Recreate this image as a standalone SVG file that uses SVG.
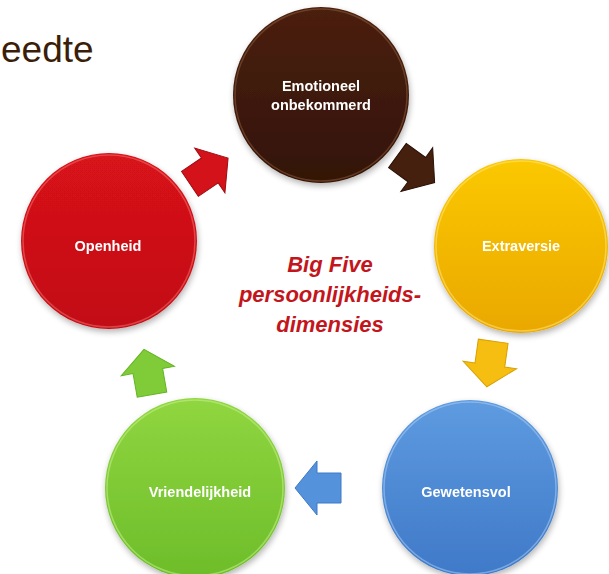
<svg xmlns="http://www.w3.org/2000/svg" width="609" height="574" viewBox="0 0 609 574">
<defs>
<style>
.lbl{font-family:"Liberation Sans",Arial,sans-serif;font-weight:bold;font-size:14.5px;fill:#fff;text-anchor:middle}
.ctr{font-family:"Liberation Sans",Arial,sans-serif;font-weight:bold;font-style:italic;font-size:22px;fill:#c3161c;text-anchor:middle}
.rim{fill:none;stroke-width:1.5;stroke-opacity:0.55}
</style>
<filter id="sh" x="-20%" y="-20%" width="140%" height="140%"><feGaussianBlur in="SourceAlpha" stdDeviation="3"/><feOffset dx="1" dy="3"/><feComponentTransfer><feFuncA type="linear" slope="0.3"/></feComponentTransfer><feMerge><feMergeNode/><feMergeNode in="SourceGraphic"/></feMerge></filter>
<linearGradient id="gBrown" x1="0" y1="0" x2="0" y2="1"><stop offset="0" stop-color="#4a200d"/><stop offset="1" stop-color="#331306"/></linearGradient>
<linearGradient id="gYellow" x1="0" y1="0" x2="0" y2="1"><stop offset="0" stop-color="#fbc800"/><stop offset="1" stop-color="#eaa800"/></linearGradient>
<linearGradient id="gRed" x1="0" y1="0" x2="0" y2="1"><stop offset="0" stop-color="#d8121a"/><stop offset="1" stop-color="#c20f16"/></linearGradient>
<linearGradient id="gBlue" x1="0" y1="0" x2="0" y2="1"><stop offset="0" stop-color="#5e9be0"/><stop offset="1" stop-color="#3f79c8"/></linearGradient>
<linearGradient id="gGreen" x1="0" y1="0" x2="0" y2="1"><stop offset="0" stop-color="#90d640"/><stop offset="1" stop-color="#6dbd2a"/></linearGradient>
<path id="arr" d="M-23,-15 L1,-15 L1,-27 L23,0 L1,27 L1,15 L-23,15 Z"/>
</defs>
<rect width="609" height="574" fill="#fff"/>
<text x="1" y="62" font-family="'Liberation Sans',Arial,sans-serif" font-size="37" fill="#3a1e0a">eedte</text>

<g id="connectors">
<use href="#arr" transform="translate(209,171) rotate(-34)" fill="#d3121a" stroke="#9e0c12" stroke-width="1"/>
<use href="#arr" transform="translate(416,169) rotate(36)" fill="#45200f" stroke="#2a1005" stroke-width="1"/>
<use href="#arr" transform="translate(490,364) rotate(98)" fill="#f5be10" stroke="#d9a000" stroke-width="1"/>
<use href="#arr" transform="translate(318,488) rotate(180)" fill="#5592dc" stroke="#3f78c4" stroke-width="1"/>
<use href="#arr" transform="translate(148,372) rotate(-100)" fill="#80cc38" stroke="#64b424" stroke-width="1"/>
</g>

<g id="node-emotioneel" filter="url(#sh)">
<circle cx="321" cy="95" r="88" fill="url(#gBrown)"/>
<circle cx="321" cy="95" r="86" class="rim" stroke="#8a5a40"/>
<text class="lbl" x="321" y="91">Emotioneel</text>
<text class="lbl" x="321" y="110">onbekommerd</text>
</g>
<g id="node-extraversie" filter="url(#sh)">
<circle cx="521" cy="246" r="87" fill="url(#gYellow)"/>
<circle cx="521" cy="246" r="85" class="rim" stroke="#ffe680"/>
<text class="lbl" x="521" y="251">Extraversie</text>
</g>
<g id="node-openheid" filter="url(#sh)">
<circle cx="109" cy="241" r="88" fill="url(#gRed)"/>
<circle cx="109" cy="241" r="86" class="rim" stroke="#f07070"/>
<text class="lbl" x="108" y="251">Openheid</text>
</g>
<g id="node-gewetensvol" filter="url(#sh)">
<circle cx="470" cy="488" r="88" fill="url(#gBlue)"/>
<circle cx="470" cy="488" r="86" class="rim" stroke="#a9ccf2"/>
<text class="lbl" x="466" y="497">Gewetensvol</text>
</g>
<g id="node-vriendelijkheid" filter="url(#sh)">
<circle cx="195" cy="488" r="90" fill="url(#gGreen)"/>
<circle cx="195" cy="488" r="88" class="rim" stroke="#c6f090"/>
<text class="lbl" x="200" y="497">Vriendelijkheid</text>
</g>

<g id="center-label">
<text class="ctr" x="330" y="272">Big Five</text>
<text class="ctr" x="330" y="302">persoonlijkheids-</text>
<text class="ctr" x="330" y="332">dimensies</text>
</g>
</svg>
